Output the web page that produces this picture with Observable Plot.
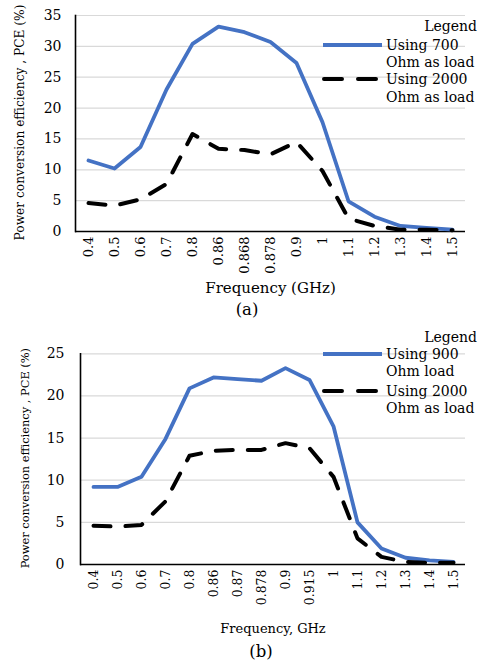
<!DOCTYPE html>
<html>
<head>
<meta charset="utf-8">
<script src="https://cdn.jsdelivr.net/npm/d3@7"></script>
<script src="https://cdn.jsdelivr.net/npm/@observablehq/plot@0.6"></script>
<style>
  html, body { margin: 0; padding: 0; background: #fff; }
  body { width: 485px; height: 663px; position: relative; overflow: hidden;
         font-family: "DejaVu Serif", "Liberation Serif", serif; color: #000; }
  .abs { position: absolute; white-space: nowrap; line-height: 1; }
  .chart { position: absolute; left: 0; }
  .cap { position: absolute; transform: translate(-50%, -50%); font-size: 16.5px; line-height: 1; }
</style>
</head>
<body>
<div id="chartA" class="chart" style="top:0px"></div>
<div id="chartB" class="chart" style="top:330px"></div>
<div id="legendA"></div>
<div id="legendB"></div>
<div class="cap" style="left:247px; top:310px">(a)</div>
<div class="cap" style="left:261px; top:652px">(b)</div>
<script>
// ---------- data ----------
const catsA = ["0.4","0.5","0.6","0.7","0.8","0.86","0.868","0.878","0.9","1","1.1","1.2","1.3","1.4","1.5"];
const pce700  = [11.5, 10.2, 13.7, 23.0, 30.4, 33.2, 32.3, 30.7, 27.3, 17.7, 4.9, 2.4, 0.9, 0.6, 0.3];
const pce2000a = [4.6, 4.2, 5.2, 7.7, 15.8, 13.4, 13.2, 12.5, 14.5, 9.8, 2.1, 0.9, 0.3, 0.3, 0.2];

const catsB = ["0.4","0.5","0.6","0.7","0.8","0.86","0.87","0.878","0.9","0.915","1","1.1","1.2","1.3","1.4","1.5"];
const pce900  = [9.2, 9.2, 10.4, 14.9, 20.9, 22.2, 22.0, 21.8, 23.3, 21.9, 16.4, 5.0, 1.9, 0.8, 0.5, 0.3];
const pce2000b = [4.6, 4.5, 4.7, 7.5, 12.9, 13.5, 13.6, 13.6, 14.4, 13.8, 10.4, 3.1, 0.9, 0.3, 0.2, 0.2];

const yTicksA = [0, 5, 10, 15, 20, 25, 30, 35];
const yTicksB = [0, 5, 10, 15, 20, 25];

const yTitle = "Power conversion efficiency , PCE (%)";
const xTitleA = "Frequency (GHz)";
const xTitleB = "Frequency, GHz";
const legendA = ["Using 700", "Ohm as load", "Using 2000", "Ohm as load"];
const legendB = ["Using 900", "Ohm load", "Using 2000", "Ohm as load"];

const BLUE = "#4472C4";
const FONT = "'DejaVu Serif', 'Liberation Serif', serif";

function makeChart(cats, s1, s2, yTicks, opts) {
  const d1 = cats.map((c, i) => ({f: c, v: s1[i]}));
  const d2 = cats.map((c, i) => ({f: c, v: s2[i]}));
  return Plot.plot({
    width: 485,
    height: opts.height,
    marginTop: opts.mt,
    marginBottom: opts.mb,
    marginLeft: opts.ml,
    marginRight: opts.mr,
    style: {fontFamily: FONT, background: "transparent", color: "#000", overflow: "visible"},
    x: {type: "point", domain: cats, padding: 0.5},
    y: {domain: [0, yTicks[yTicks.length - 1]]},
    marks: [
      Plot.gridY(yTicks, {stroke: "#d9d9d9", strokeOpacity: 1, strokeWidth: 1.2}),
      Plot.axisY(yTicks, {tickSize: 0, tickPadding: opts.ytp, fontSize: opts.ytfs, label: null}),
      Plot.axisX({tickRotate: -90, tickSize: 0, tickPadding: 5, fontSize: opts.xtfs, label: null}),
      Plot.frame({anchor: "left", stroke: "#000", strokeWidth: 1.6}),
      Plot.ruleY([0], {stroke: "#000", strokeWidth: 1.6}),
      Plot.line(d1, {x: "f", y: "v", stroke: BLUE, strokeWidth: 3.8, strokeLinejoin: "round"}),
      Plot.line(d2, {x: "f", y: "v", stroke: "#000", strokeWidth: 4, strokeDasharray: "17,15", strokeLinecap: "round", strokeLinejoin: "round"}),
      Plot.text([yTitle], {text: d => d, frameAnchor: "left", dx: opts.ytx, dy: opts.yty, rotate: -90, fontSize: opts.yfs, textAnchor: "middle", lineAnchor: "middle", fill: "#000"}),
      Plot.text([opts.xTitle], {text: d => d, frameAnchor: "bottom", dy: opts.xty, fontSize: opts.xfs, textAnchor: "middle", lineAnchor: "middle", fill: "#000"})
    ]
  });
}

document.getElementById("chartA").appendChild(makeChart(catsA, pce700, pce2000a, yTicksA, {
  height: 300, mt: 15, mb: 69, ml: 75, mr: 20, ytp: 14, ytfs: 14, xtfs: 13,
  ytx: -55, yty: -1, yfs: 12.2, xTitle: xTitleA, xty: 57, xfs: 15
}));
document.getElementById("chartB").appendChild(makeChart(catsB, pce900, pce2000b, yTicksB, {
  height: 310, mt: 23.3, mb: 76, ml: 80, mr: 20, ytp: 16, ytfs: 14, xtfs: 12.5,
  ytx: -55, yty: -1, yfs: 11.4, xTitle: xTitleB, xty: 64, xfs: 13
}));

// ---------- legends ----------
function makeLegend(el, labels, top, rows) {
  const fs = 14;
  let html = `<div class="abs" style="right:8px; top:${top - fs/2}px; font-size:${fs}px">Legend</div>`;
  labels.forEach((t, i) => {
    html += `<div class="abs" style="left:386px; top:${rows[i] - fs/2}px; font-size:${fs}px">${t}</div>`;
  });
  html += `<svg class="abs" style="left:320px; top:${rows[0]-4}px" width="64" height="8">
    <line x1="3" y1="4" x2="62" y2="4" stroke="${BLUE}" stroke-width="3.8"/></svg>`;
  html += `<svg class="abs" style="left:320px; top:${rows[2]-4}px" width="64" height="8">
    <line x1="4" y1="4" x2="62" y2="4" stroke="#000" stroke-width="4" stroke-dasharray="18,16" stroke-linecap="round"/></svg>`;
  el.innerHTML = html;
}
makeLegend(document.getElementById("legendA"), legendA, 26, [45, 62, 79, 97]);
makeLegend(document.getElementById("legendB"), legendB, 337, [354, 371, 391, 408]);
</script>
</body>
</html>
